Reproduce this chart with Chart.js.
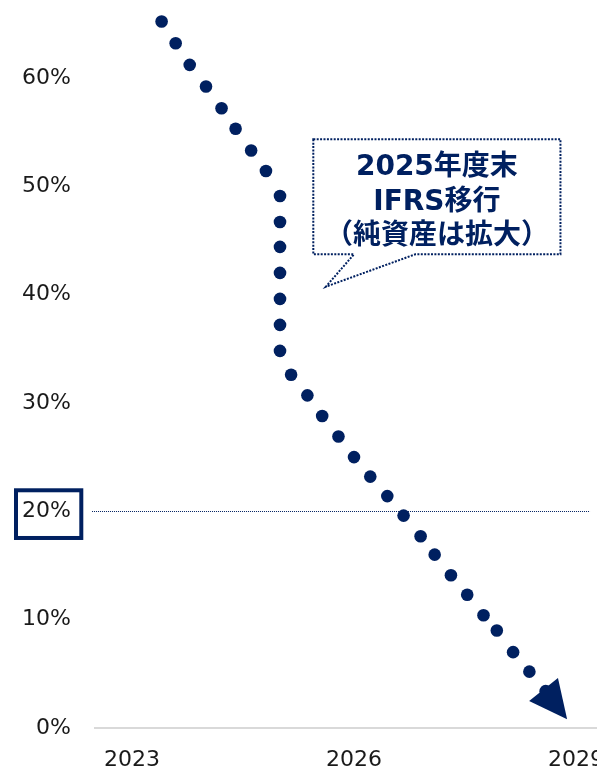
<!DOCTYPE html>
<html>
<head>
<meta charset="utf-8">
<script src="https://cdn.jsdelivr.net/npm/chart.js@4/dist/chart.umd.min.js"></script>
<style>
  html, body { margin: 0; padding: 0; background: #fff; overflow: hidden; }
  #wrap { width: 613px; height: 771px; }
</style>
</head>
<body>
<div id="wrap"><canvas id="c" width="613" height="771"></canvas></div>
<script>
// Ratio path (%), one value per dot along the trajectory
const years = [
  2023.40, 2023.59, 2023.78, 2024.00, 2024.21, 2024.40, 2024.61, 2024.81,
  2025.00, 2025.00, 2025.00, 2025.00, 2025.00, 2025.00, 2025.00,
  2025.15, 2025.37, 2025.57, 2025.79, 2026.00, 2026.22, 2026.45, 2026.67,
  2026.90, 2027.09, 2027.31, 2027.53, 2027.75, 2027.93, 2028.15, 2028.37, 2028.59
];
const shares = [
  65.2, 63.2, 61.2, 59.2, 57.2, 55.3, 53.3, 51.4,
  49.1, 46.7, 44.4, 42.0, 39.6, 37.2, 34.8,
  32.6, 30.7, 28.8, 26.9, 25.0, 23.2, 21.4, 19.6,
  17.7, 16.0, 14.1, 12.3, 10.4, 9.0, 7.0, 5.2, 3.4
];
const arrowTip = { x: 2028.88, y: 0.8 };

const yTickValues = [0, 10, 20, 30, 40, 50, 60];
const xTickValues = [2023, 2026, 2029];
const refLevel = 20;
const refSpan = [2022.46, 2029.19];

const calloutLines = ['2025年度末', 'IFRS移行', '（純資産は拡大）'];
const calloutBox = { x0: 2025.45, x1: 2028.79, y0: 54.33, y1: 43.72 };
const calloutTail = { baseL: 2026.00, baseR: 2026.83, tipX: 2025.62, tipY: 40.73 };

const NAVY = '#002060';
const points = years.map((x, i) => ({ x, y: shares[i] }));

const decorations = {
  id: 'decorations',
  beforeDatasetsDraw(chart) {
    const { ctx, scales: { x, y }, chartArea } = chart;
    // dotted reference level
    const yRef = Math.round(y.getPixelForValue(refLevel)) + 0.5;
    ctx.save();
    ctx.strokeStyle = NAVY;
    ctx.lineWidth = 1;
    ctx.setLineDash([1, 1]);
    ctx.beginPath();
    ctx.moveTo(x.getPixelForValue(refSpan[0]), yRef);
    ctx.lineTo(x.getPixelForValue(refSpan[1]), yRef);
    ctx.stroke();
    ctx.restore();

    // frame around the reference tick label
    ctx.save();
    ctx.strokeStyle = NAVY;
    ctx.lineWidth = 4;
    ctx.strokeRect(chartArea.left - 79, y.getPixelForValue(refLevel) - 21, 65.3, 47.7);
    ctx.restore();

    // speech-bubble callout
    const L = x.getPixelForValue(calloutBox.x0), R = x.getPixelForValue(calloutBox.x1);
    const T = y.getPixelForValue(calloutBox.y0), B = y.getPixelForValue(calloutBox.y1);
    const bl = x.getPixelForValue(calloutTail.baseL), br = x.getPixelForValue(calloutTail.baseR);
    const tx = x.getPixelForValue(calloutTail.tipX), ty = y.getPixelForValue(calloutTail.tipY);
    ctx.save();
    ctx.beginPath();
    ctx.moveTo(L, T);
    ctx.lineTo(R, T);
    ctx.lineTo(R, B);
    ctx.lineTo(br, B);
    ctx.lineTo(tx, ty);
    ctx.lineTo(bl, B);
    ctx.lineTo(L, B);
    ctx.closePath();
    ctx.fillStyle = '#fff';
    ctx.fill();
    ctx.strokeStyle = NAVY;
    ctx.lineWidth = 2;
    ctx.setLineDash([2, 1.4]);
    ctx.stroke();
    ctx.setLineDash([]);
    ctx.fillStyle = NAVY;
    ctx.font = 'bold 28px "DejaVu Sans", "Noto Sans CJK JP", sans-serif';
    ctx.textAlign = 'center';
    ctx.textBaseline = 'alphabetic';
    const cx = (L + R) / 2;
    const offsets = [35.7, 70.7, 104.7];
    calloutLines.forEach((t, i) => ctx.fillText(t, cx, T + offsets[i]));
    ctx.restore();
  },
  afterDatasetsDraw(chart) {
    const { ctx, scales: { x, y } } = chart;
    // arrowhead at the end of the path
    const px = x.getPixelForValue(arrowTip.x), py = y.getPixelForValue(arrowTip.y);
    const prev = points[points.length - 2];
    const qx = x.getPixelForValue(prev.x), qy = y.getPixelForValue(prev.y);
    let dx = px - qx, dy = py - qy;
    const len = Math.hypot(dx, dy);
    dx /= len; dy /= len;
    const headLen = 38, halfW = 18.4;
    const bx = px - dx * headLen, by = py - dy * headLen;
    ctx.save();
    ctx.fillStyle = NAVY;
    ctx.beginPath();
    ctx.moveTo(px, py);
    ctx.lineTo(bx - dy * halfW, by + dx * halfW);
    ctx.lineTo(bx + dy * halfW, by - dx * halfW);
    ctx.closePath();
    ctx.fill();
    ctx.restore();
  }
};

new Chart(document.getElementById('c'), {
  type: 'scatter',
  data: {
    datasets: [{
      data: points,
      showLine: false,
      pointRadius: 6.3,
      pointBackgroundColor: NAVY,
      pointBorderWidth: 0,
      clip: false
    }]
  },
  options: {
    responsive: false,
    animation: false,
    events: [],
    layout: { autoPadding: false, padding: { top: 2, left: 0, right: 0, bottom: 0 } },
    plugins: { legend: { display: false }, tooltip: { enabled: false } },
    scales: {
      x: {
        type: 'linear',
        min: 2022.5,
        max: 2029.5,
        grid: { display: false, drawTicks: false },
        border: { display: true, color: '#d9d9d9', width: 2 },
        afterBuildTicks(scale) { scale.ticks = xTickValues.map(v => ({ value: v })); },
        afterFit(scale) { scale.height = 43; scale.paddingLeft = 0; scale.paddingRight = 0; },
        ticks: {
          padding: 19,
          maxRotation: 0,
          autoSkip: false,
          color: '#1a1a1a',
          font: { family: '"DejaVu Sans", sans-serif', size: 22 },
          callback: v => String(v)
        }
      },
      y: {
        type: 'linear',
        min: 0,
        max: 67,
        grid: { display: false, drawTicks: false },
        border: { display: false },
        afterBuildTicks(scale) { scale.ticks = yTickValues.map(v => ({ value: v })); },
        afterFit(scale) { scale.width = 95; scale.paddingTop = 0; scale.paddingBottom = 0; },
        ticks: {
          padding: 24,
          color: '#1a1a1a',
          font: { family: '"DejaVu Sans", sans-serif', size: 22 },
          callback: v => v + '%'
        }
      }
    }
  },
  plugins: [decorations]
});
</script>
</body>
</html>
